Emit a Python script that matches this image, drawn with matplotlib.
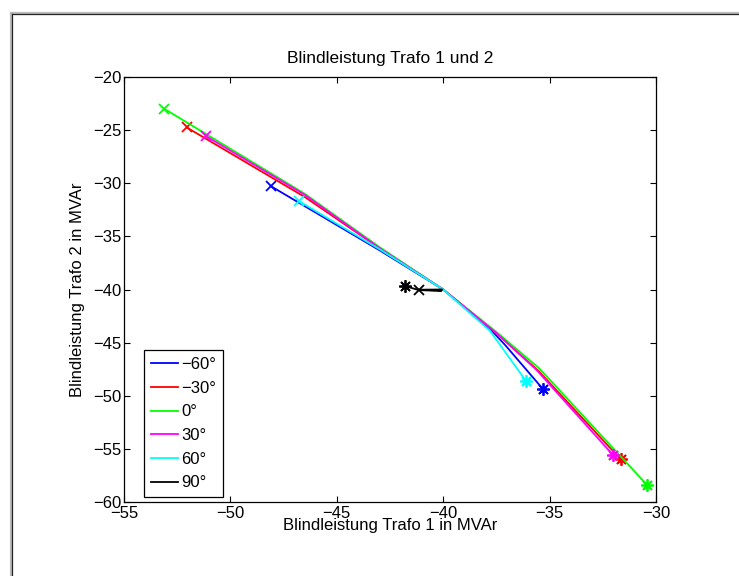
import matplotlib
matplotlib.use("Agg")
import matplotlib.pyplot as plt
from matplotlib.lines import Line2D

plt.rcParams['font.family'] = ['Liberation Sans', 'DejaVu Sans']

# --- Data ---

labels = ['\u221260\u00b0', '\u221230\u00b0', '0\u00b0', '30\u00b0', '60\u00b0', '90\u00b0']
colors = ['#0000ff', '#ff0000', '#00ff00', '#ff00ff', '#00ffff', '#000000']

x_m60 = [-48.11, -43.0, -40.0, -37.8, -37.1, -35.30]
y_m60 = [-30.26, -36.3, -40.0, -43.7, -45.2, -49.40]

x_m30 = [-52.05, -46.5, -43.0, -40.0, -37.5, -35.5, -34.9, -31.66]
y_m30 = [-24.75, -31.3, -36.1, -40.0, -44.1, -47.7, -49.0, -55.98]

x_0 = [-53.10, -46.5, -43.0, -40.0, -37.5, -35.5, -34.8, -30.42]
y_0 = [-23.00, -31.0, -36.0, -40.0, -44.0, -47.4, -48.9, -58.40]

x_30 = [-51.16, -46.5, -43.0, -40.0, -37.5, -35.6, -32.01]
y_30 = [-25.55, -31.1, -36.1, -40.0, -44.1, -47.6, -55.60]

x_60 = [-46.78, -43.0, -40.0, -37.8, -36.12]
y_60 = [-31.67, -36.2, -40.0, -43.9, -48.58]

x_90 = [-41.15, -40.05, -40.10, -41.15, -41.81]
y_90 = [-40.02, -40.00, -40.15, -40.05, -39.67]

series = [(x_m60, y_m60), (x_m30, y_m30), (x_0, y_0),
          (x_30, y_30), (x_60, y_60), (x_90, y_90)]

W, H = 739, 576
fig = plt.figure(figsize=(W / 100, H / 100), dpi=100)

# axes box in pixels: left 124, right 656, top 77, bottom 502
ax = fig.add_axes([124 / W, 1 - 502 / H, (656 - 124) / W, (502 - 77) / H])

asterisk = (8, 2, 0)
for (xs, ys), lab, c in zip(series, labels, colors):
    ax.plot(xs, ys, color=c, lw=1.3, label=lab)
    ax.plot(xs[0], ys[0], color=c, marker='x', ms=7, mew=1.3, ls='none')
    ax.plot(xs[-1], ys[-1], color=c, marker=asterisk, ms=9, mew=1.3, ls='none')

ax.set_xlim(-55, -30)
ax.set_ylim(-60, -20)
ax.set_xticks(range(-55, -29, 5))
ax.set_yticks(range(-60, -19, 5))
ax.set_xticklabels([f'\u2212{abs(v)}' for v in range(-55, -29, 5)])
ax.set_yticklabels([f'\u2212{abs(v)}' for v in range(-60, -19, 5)])
ax.tick_params(direction='in', length=4, width=0.8, top=True, right=True,
               labelsize=12, pad=3)
ax.tick_params(axis='y', pad=2)
for s in ax.spines.values():
    s.set_linewidth(0.9)

ax.set_title('Blindleistung Trafo 1 und 2', fontsize=12.5, pad=10)
ax.set_xlabel('Blindleistung Trafo 1 in MVAr', fontsize=12, labelpad=-2)
ax.set_ylabel('Blindleistung Trafo 2 in MVAr', fontsize=12, labelpad=5.5)

leg = ax.legend(loc='lower left', bbox_to_anchor=(20 / 532, 5 / 425),
                fontsize=12, fancybox=False, shadow=False, framealpha=1,
                edgecolor='black', handlelength=1.65, handletextpad=0.2,
                labelspacing=0.52, borderpad=0.4, borderaxespad=0)
leg.get_frame().set_linewidth(0.9)

# figure frame (top and left edges visible)
fig.add_artist(Line2D([11 / W, 1], [1 - 13 / H, 1 - 13 / H], color='#bbbbbb', lw=1.6,
                      transform=fig.transFigure))
fig.add_artist(Line2D([11 / W, 11 / W], [1 - 13 / H, 0], color='#bbbbbb', lw=1.6,
                      transform=fig.transFigure))
fig.add_artist(Line2D([11.6 / W, 1], [1 - 13.6 / H, 1 - 13.6 / H], color='#222222', lw=0.9,
                      transform=fig.transFigure))
fig.add_artist(Line2D([11.6 / W, 11.6 / W], [1 - 13.6 / H, 0], color='#222222', lw=0.9,
                      transform=fig.transFigure))

fig.savefig('out.png', dpi=100)
